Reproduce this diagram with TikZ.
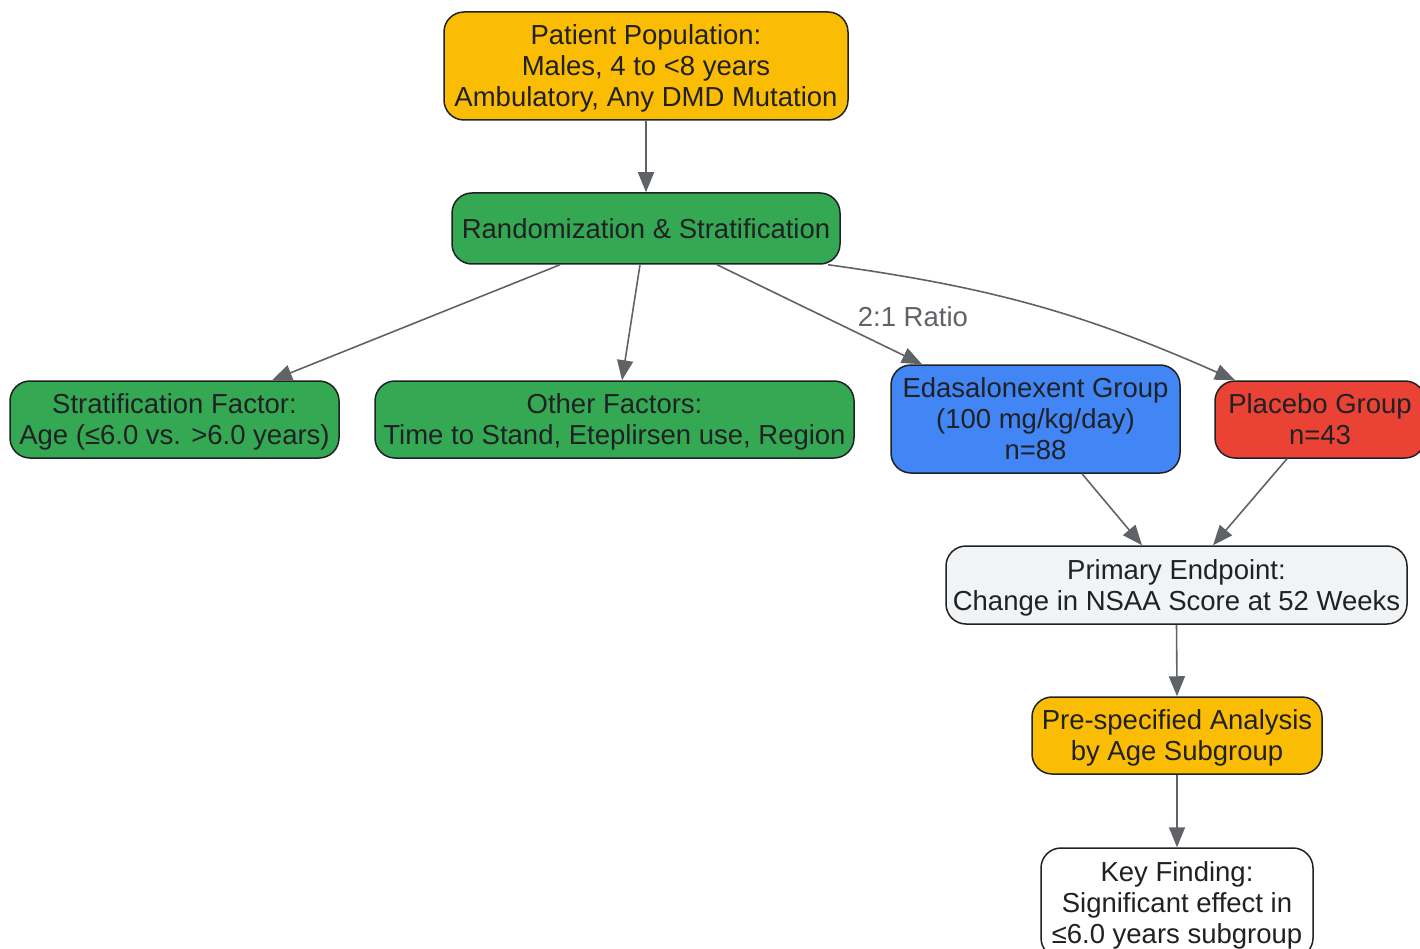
\documentclass[tikz,border=0pt]{standalone}
\usepackage{fontspec}
\setmainfont{Liberation Sans}
\usetikzlibrary{arrows.meta}

\definecolor{gyellow}{HTML}{FBBC04}
\definecolor{ggreen}{HTML}{34A853}
\definecolor{gblue}{HTML}{4285F4}
\definecolor{gred}{HTML}{EA4335}
\definecolor{glight}{HTML}{F1F3F4}
\definecolor{ink}{HTML}{202124}
\definecolor{edgegray}{HTML}{5F6368}

\begin{document}
\begin{tikzpicture}[x=1pt,y=-1pt,
    box/.style={draw=ink, line width=1.5pt, rounded corners=20pt, align=center,
        inner sep=0pt, text=ink, text depth=0pt, font=\fontsize{27.5}{31}\selectfont},
    arr/.style={draw=edgegray, line width=1.6pt, -{Triangle[length=20pt,width=16pt]}}]
    \useasboundingbox (0,0) rectangle (1420,949);

    \node[box, fill=gyellow, minimum width=404, minimum height=108] (pop) at (646,66)
        {Patient Population:\\Males, 4 to <8 years\\Ambulatory, Any DMD Mutation};
    \node[box, fill=ggreen, minimum width=388, minimum height=71] (rand) at (646,228.5)
        {Randomization \& Stratification};
    \node[box, fill=ggreen, minimum width=329, minimum height=77] (strat) at (174.5,419.5)
        {Stratification Factor:\\Age (≤6.0 vs. >6.0 years)};
    \node[box, fill=ggreen, minimum width=479, minimum height=77] (other) at (614.5,419.5)
        {Other Factors:\\Time to Stand, Eteplirsen use, Region};
    \node[box, fill=gblue, minimum width=289, minimum height=108] (eda) at (1035.5,419)
        {Edasalonexent Group\\(100 mg/kg/day)\\n=88};
    \node[box, fill=gred, minimum width=210, minimum height=77] (plac) at (1320,419.5)
        {Placebo Group\\n=43};
    \node[box, fill=glight, minimum width=461, minimum height=78] (prim) at (1176.5,585)
        {Primary Endpoint:\\Change in NSAA Score at 52 Weeks};
    \node[box, fill=gyellow, minimum width=290, minimum height=77] (pre) at (1177,735.5)
        {Pre-specified Analysis\\by Age Subgroup};
    \node[box, fill=white, minimum width=272, minimum height=110] (key) at (1177,903)
        {Key Finding:\\Significant effect in\\≤6.0 years subgroup};

    \foreach \a/\sa/\b/\sb in {pop/0/rand/0, rand/-86/strat/97.5, rand/-6/other/7.5,
        eda/46.5/prim/-34.5, plac/-33/prim/36.5, prim/0/pre/0, pre/0/key/0}
        \draw[arr] ([xshift=\sa pt]\a.south) -- ([xshift=\sb pt]\b.north);

    \draw[arr] ([xshift=71pt]rand.south) -- ([xshift=-113.5pt]eda.north)
        node[pos=0.55, anchor=west, xshift=24pt, yshift=3pt, text=edgegray,
             font=\fontsize{27.5}{31}\selectfont] {2:1 Ratio};
    \draw[arr] ([xshift=182pt]rand.south) to[bend left=8] ([xshift=-85pt]plac.north);
\end{tikzpicture}
\end{document}
